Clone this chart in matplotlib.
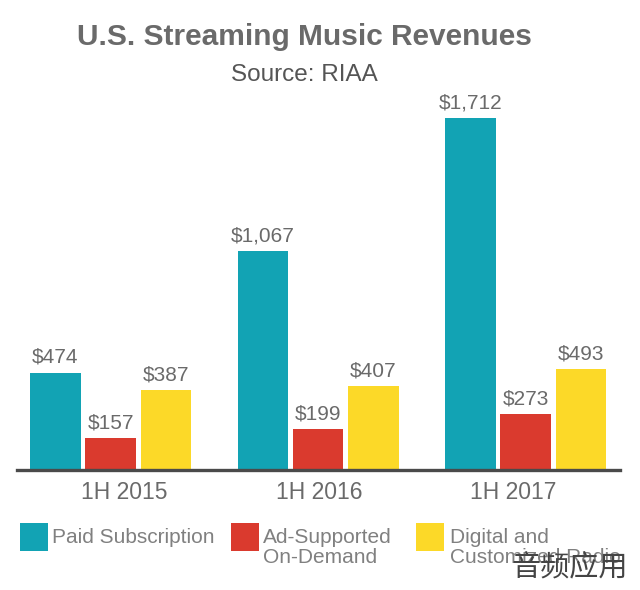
import numpy as np
import matplotlib.pyplot as plt
from matplotlib.patches import Rectangle

plt.rcParams['font.family'] = ['Liberation Sans', 'DejaVu Sans']

periods = ['1H 2015', '1H 2016', '1H 2017']
paid = [474, 1067, 1712]
ad_supported = [157, 199, 273]
radio = [387, 407, 493]
series_names = ['Paid Subscription', 'Ad-Supported\nOn-Demand', 'Digital and\nCustomized Radio']

TEAL = '#12a3b4'
RED = '#da3a2e'
YELLOW = '#fcd928'
GREY = '#6a6a6a'

W, H = 640, 590
fig = plt.figure(figsize=(6.4, 5.9), dpi=100)

# axes placed in pixels, baseline at y=470
left, right, base, top = 17, 620, 470, 100
ax = fig.add_axes([left / W, 1 - base / H, (right - left) / W, (base - top) / H])
px_per_val = (470 - 118) / 1712
ax.set_ylim(0, (base - top) / px_per_val)
ax.set_xlim(17, 620)

x = np.array([55.5, 263, 470.5])
bar_w = 50.5
step = 55.2

for i, (vals, col) in enumerate(zip([paid, ad_supported, radio], [TEAL, RED, YELLOW])):
    bars = ax.bar(x + i * step, vals, bar_w, color=col, linewidth=0)
    labels = [f'${v:,}' for v in vals]
    ax.bar_label(bars, labels=labels, padding=4, fontsize=15, color=GREY)

ax.set_yticks([])
ax.set_xticks([124, 319, 513])
ax.set_xticklabels(periods, fontsize=16.5, color=GREY)
ax.tick_params(axis='x', length=0, pad=8)
for s in ['top', 'left', 'right']:
    ax.spines[s].set_visible(False)
ax.spines['bottom'].set_linewidth(2.4)
ax.spines['bottom'].set_color('#4a4a4a')
ax.patch.set_alpha(0)

fig.text(304 / W, 1 - 37 / H, 'U.S. Streaming Music Revenues', ha='center', va='center',
         fontsize=21.5, fontweight='bold', color=GREY)
fig.text(304 / W, 1 - 75 / H, 'Source: RIAA', ha='center', va='center', fontsize=17.5, color='#555555')

# legend drawn by hand, the second and third entries wrap to two lines
for lx, tx, name, col in zip([20, 231, 416], [52, 263, 450], series_names, [TEAL, RED, YELLOW]):
    fig.add_artist(Rectangle((lx / W, 1 - 551 / H), 28 / W, 28 / H, transform=fig.transFigure,
                             color=col, linewidth=0))
    fig.text(tx / W, 1 - 528 / H, name, ha='left', va='top', fontsize=15, color='#808080',
             linespacing=1.05)

# watermark
fig.text(570 / W, 1 - 567 / H, '音频应用', ha='center', va='center', fontsize=21, color='#444444',
         family=['Noto Sans CJK SC', 'DejaVu Sans'], fontweight='light')

fig.savefig('out.png', dpi=100)
